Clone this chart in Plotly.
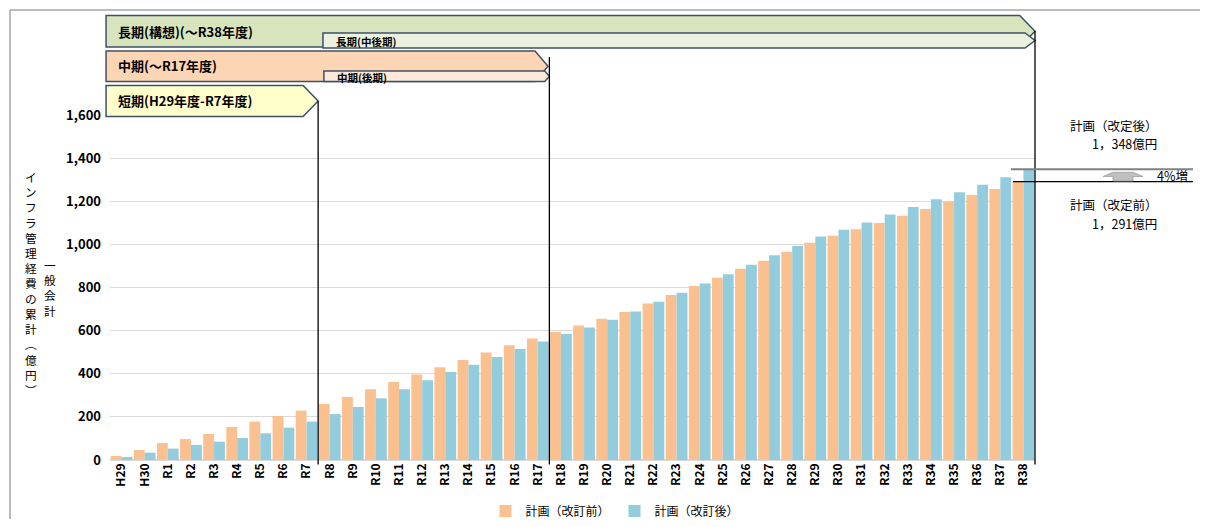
import plotly.graph_objects as go

# ---------------- data ----------------
categories = ["H29", "H30", "R1", "R2", "R3", "R4", "R5", "R6", "R7", "R8",
              "R9", "R10", "R11", "R12", "R13", "R14", "R15", "R16", "R17", "R18",
              "R19", "R20", "R21", "R22", "R23", "R24", "R25", "R26", "R27", "R28",
              "R29", "R30", "R31", "R32", "R33", "R34", "R35", "R36", "R37", "R38"]
plan_before = [19, 46, 79, 97, 121, 153, 178, 204, 229, 260,
               292, 328, 362, 397, 430, 464, 499, 532, 563, 594,
               624, 655, 686, 726, 765, 807, 845, 887, 924, 966,
               1008, 1040, 1070, 1099, 1133, 1164, 1198, 1229, 1257, 1291]
plan_after = [14, 34, 53, 70, 85, 102, 124, 150, 178, 213,
              246, 286, 328, 370, 408, 442, 478, 515, 550, 584,
              615, 650, 689, 734, 776, 819, 861, 906, 950, 992,
              1037, 1068, 1102, 1138, 1173, 1209, 1242, 1277, 1311, 1348]
series_names = ["計画（改訂前）", "計画（改訂後）"]
y_ticks = [0, 200, 400, 600, 800, 1000, 1200, 1400, 1600]
y_title = "インフラ管理経費の累計︵億円︶"
y_subtitle = "一般会計"

# ---------------- layout constants ----------------
WIN_W, WIN_H = 1208, 527
OFF = 8                      # page body margin: figure sits 8px in from the window corner
FIG_W, FIG_H = WIN_W - OFF, WIN_H - 2 * OFF
PLOT_X0, PLOT_X1 = 110, 1035  # plot area in window pixels
PLOT_Y0, PLOT_Y1 = 115, 460
L, T = PLOT_X0 - OFF, PLOT_Y0 - OFF
PW, PH = PLOT_X1 - PLOT_X0, PLOT_Y1 - PLOT_Y0
R, B = FIG_W - L - PW, FIG_H - T - PH
N = len(categories)
Y_MAX = 1600
FONT = "Noto Sans CJK JP"
C_ORANGE = "#FAC090"
C_BLUE = "#93CDDD"


def cx(c):  # category coordinate -> paper x
    return (c + 0.5) / N


def px(x):  # window pixel x -> paper x
    return (x - PLOT_X0) / PW


def py(y):  # window pixel y -> paper y
    return (PLOT_Y1 - y) / PH


fig = go.Figure()
fig.add_trace(go.Bar(x=categories, y=plan_before, name=series_names[0],
                     marker=dict(color=C_ORANGE, line=dict(width=0))))
fig.add_trace(go.Bar(x=categories, y=plan_after, name=series_names[1],
                     marker=dict(color=C_BLUE, line=dict(width=0))))

shapes = []
annotations = []

# outer frame (top and left edges)
shapes.append(dict(type="line", xref="paper", yref="paper", x0=px(10), x1=px(WIN_W + 10),
                   y0=py(10), y1=py(10), line=dict(color="#A6A6A6", width=1.5)))
shapes.append(dict(type="line", xref="paper", yref="paper", x0=px(10), x1=px(10),
                   y0=py(10), y1=py(WIN_H + 10), line=dict(color="#A6A6A6", width=1.5)))

BORDER = "#3F5068"


def banner(left_c, flat_c, tip_c, top, bottom, fill):
    mid = (top + bottom) / 2
    path = (f"M{cx(left_c)},{py(top)} L{cx(flat_c)},{py(top)} L{cx(tip_c)},{py(mid)} "
            f"L{cx(flat_c)},{py(bottom)} L{cx(left_c)},{py(bottom)} Z")
    return dict(type="path", xref="paper", yref="paper", path=path, fillcolor=fill,
                line=dict(color=BORDER, width=1.5), layer="above")


# period banners
shapes.append(banner(-0.67, 38.84, 39.5, 15.5, 47, "#D8E4BC"))
shapes.append(banner(8.71, 39.07, 39.5, 33, 48, "#EBF1DE"))
shapes.append(banner(-0.67, 17.88, 18.44, 51, 81.5, "#FCD5B5"))
shapes.append(banner(8.75, 18.3, 18.5, 71, 81.5, "#FDE9D9"))
shapes.append(banner(-0.67, 7.85, 8.5, 85.5, 116.5, "#FFFFCC"))

banner_texts = [
    ("長期(構想)(～R38年度)", 116, 31, 13),
    ("長期(中後期)", 334, 41, 10.5),
    ("中期(～R17年度)", 116, 65, 13),
    ("中期(後期)", 335, 77, 10.5),
    ("短期(H29年度-R7年度)", 116, 100, 13),
]
for txt, x, y, s in banner_texts:
    annotations.append(dict(text=txt, xref="paper", yref="paper", x=px(x), y=py(y),
                            xanchor="left", yanchor="middle", showarrow=False,
                            font=dict(family=FONT, size=s, color="#000", weight="bold")))

# vertical period boundary lines
for c, top in [(8.5, 101), (18.5, 57), (39.5, 31)]:
    shapes.append(dict(type="line", xref="paper", yref="paper", x0=cx(c), x1=cx(c),
                       y0=py(top), y1=py(464.5), line=dict(color="#000", width=1.3),
                       layer="above"))

# comparison lines at the final values
after_final, before_final = plan_after[-1], plan_before[-1]
shapes.append(dict(type="line", xref="paper", yref="paper", x0=px(1011), x1=px(1193),
                   y0=after_final / Y_MAX, y1=after_final / Y_MAX,
                   line=dict(color="#808080", width=2)))
shapes.append(dict(type="line", xref="paper", yref="paper", x0=px(1013), x1=px(1193),
                   y0=before_final / Y_MAX, y1=before_final / Y_MAX,
                   line=dict(color="#000", width=1.2)))

# up arrow
arrow_pts = [(1103, 176.5), (1113, 172.3), (1133, 172.3), (1143, 176.5), (1133, 176.5),
             (1133, 181), (1113, 181), (1113, 176.5)]
arrow_path = "M" + " L".join(f"{px(a)},{py(b)}" for a, b in arrow_pts) + " Z"
shapes.append(dict(type="path", xref="paper", yref="paper", path=arrow_path,
                   fillcolor="#BFBFBF", line=dict(color="#A0A0A0", width=0.8)))

pct = round((after_final / before_final - 1) * 100)
right_texts = [
    ("計画（改定後）", 1068, 125),
    (f"{after_final:,}億円".replace(",", "，"), 1090, 143.5),
    (f"{pct}%増", 1155, 175.5),
    ("計画（改定前）", 1068, 204),
    (f"{before_final:,}億円".replace(",", "，"), 1090, 223),
]
for txt, x, y in right_texts:
    annotations.append(dict(text=txt, xref="paper", yref="paper", x=px(x), y=py(y),
                            xanchor="left", yanchor="middle", showarrow=False,
                            font=dict(family=FONT, size=12.5, color="#000")))

# vertical y-axis titles
annotations.append(dict(text="<br>".join(y_title), xref="paper", yref="paper",
                        x=px(31), y=py(283), xanchor="center", yanchor="middle",
                        showarrow=False, align="center",
                        font=dict(family=FONT, size=11.7, color="#000")))
annotations.append(dict(text="<br>".join(y_subtitle), xref="paper", yref="paper",
                        x=px(50), y=py(287), xanchor="center", yanchor="middle",
                        showarrow=False, align="center",
                        font=dict(family=FONT, size=11.7, color="#000")))

legend_y_container = 1 - (511 - OFF) / FIG_H

fig.update_layout(
    width=FIG_W, height=FIG_H,
    margin=dict(l=L, r=R, t=T, b=B, pad=0, autoexpand=False),
    paper_bgcolor="white", plot_bgcolor="white",
    barmode="group", bargap=0.06, bargroupgap=0,
    font=dict(family=FONT, color="#000"),
    showlegend=True,
    legend=dict(orientation="h", x=px(615), y=legend_y_container, yref="container",
                xanchor="center", yanchor="middle",
                font=dict(family=FONT, size=12, color="#000"), itemwidth=30,
                bgcolor="rgba(0,0,0,0)"),
    shapes=shapes, annotations=annotations,
)
fig.update_xaxes(type="category", range=[-0.5, N - 0.5], tickangle=-90, automargin=False,
                 tickfont=dict(family=FONT, size=12, color="#000", weight="bold"),
                 showgrid=False, showline=False, ticks="", ticklen=0)
fig.update_yaxes(range=[0, Y_MAX], tickvals=y_ticks, tickformat=",", automargin=False,
                 tickfont=dict(family=FONT, size=13, color="#000", weight="bold"),
                 showgrid=True, gridcolor="#D9D9D9", gridwidth=1,
                 zeroline=True, zerolinecolor="#D9D9D9", zerolinewidth=1.5,
                 showline=False, ticks="", ticklabelstandoff=8)

fig.write_html("out.html")
